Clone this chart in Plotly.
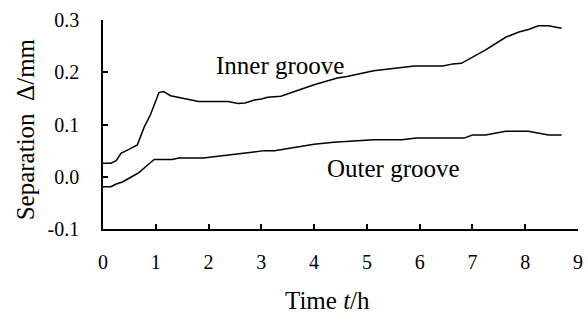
import plotly.graph_objects as go

inner_t = [0.0, 0.15, 0.25, 0.34, 0.5, 0.65, 0.78, 0.9, 1.06, 1.15, 1.28, 1.43, 1.62, 1.81, 2.37, 2.56, 2.69,
           2.87, 3.0, 3.12, 3.37, 3.62, 4.0, 4.44, 4.62, 5.13, 5.5, 5.9, 6.44, 6.63, 6.79, 7.0, 7.25, 7.63,
           7.88, 8.06, 8.25, 8.44, 8.69]
inner_v = [0.026, 0.026, 0.031, 0.045, 0.053, 0.061, 0.095, 0.119, 0.161, 0.163, 0.155, 0.152, 0.147, 0.144,
           0.144, 0.140, 0.141, 0.147, 0.149, 0.152, 0.154, 0.163, 0.176, 0.189, 0.192, 0.203, 0.208, 0.212,
           0.212, 0.216, 0.217, 0.229, 0.243, 0.267, 0.277, 0.282, 0.289, 0.289, 0.284]

outer_t = [0.0, 0.15, 0.25, 0.37, 0.56, 0.68, 0.84, 0.97, 1.31, 1.44, 1.9, 2.25, 3.0, 3.06, 3.25, 3.62, 4.0,
           4.37, 5.13, 5.66, 5.94, 6.84, 7.0, 7.25, 7.63, 8.06, 8.44, 8.69]
outer_v = [-0.019, -0.019, -0.014, -0.010, 0.001, 0.008, 0.022, 0.033, 0.033, 0.036, 0.036, 0.040, 0.048,
           0.050, 0.050, 0.056, 0.062, 0.066, 0.071, 0.071, 0.074, 0.074, 0.080, 0.080, 0.087, 0.087, 0.080,
           0.080]

x_ticks = [0, 1, 2, 3, 4, 5, 6, 7, 8, 9]
y_ticks = [-0.1, 0.0, 0.1, 0.2, 0.3]
y_tick_text = ["-0.1", "0.0", "0.1", "0.2", "0.3"]

FONT = "Liberation Serif, Times New Roman, serif"

fig = go.Figure()
fig.add_trace(go.Scatter(x=inner_t, y=inner_v, mode="lines", line=dict(color="black", width=1.5),
                         showlegend=False, hoverinfo="skip"))
fig.add_trace(go.Scatter(x=outer_t, y=outer_v, mode="lines", line=dict(color="black", width=1.5),
                         showlegend=False, hoverinfo="skip"))

fig.add_annotation(x=3.36, y=0.213, text="Inner groove", showarrow=False,
                   font=dict(family=FONT, size=25, color="black"))
fig.add_annotation(x=5.5, y=0.016, text="Outer groove", showarrow=False,
                   font=dict(family=FONT, size=25, color="black"))

# axis titles as paper annotations for exact placement
fig.add_annotation(xref="paper", yref="paper", x=-0.163, y=0.475, text="Separation  Δ/mm",
                   textangle=-90, showarrow=False, xanchor="center", yanchor="middle",
                   font=dict(family=FONT, size=25, color="black"))
fig.add_annotation(xref="paper", yref="paper", x=0.472, y=-0.34, text="Time <i>t</i>/h",
                   showarrow=False, xanchor="center", yanchor="middle",
                   font=dict(family=FONT, size=25, color="black"))

fig.update_layout(
    width=588, height=321,
    margin=dict(l=103, r=5, t=20, b=92),
    paper_bgcolor="white", plot_bgcolor="white",
    font=dict(family=FONT, size=20, color="black"),
    xaxis=dict(range=[0, 9], tickvals=x_ticks, ticks="inside", ticklen=5, tickwidth=1.5,
               tickcolor="black", showline=True, linecolor="black", linewidth=1.5,
               showgrid=False, zeroline=False, ticklabelstandoff=14),
    yaxis=dict(range=[-0.1, 0.3], tickvals=y_ticks, ticktext=y_tick_text, ticks="inside", ticklen=5,
               tickwidth=1.5, tickcolor="black", showline=True, linecolor="black", linewidth=1.5,
               showgrid=False, zeroline=False, ticklabelstandoff=18),
)

fig.write_html("out.html")
